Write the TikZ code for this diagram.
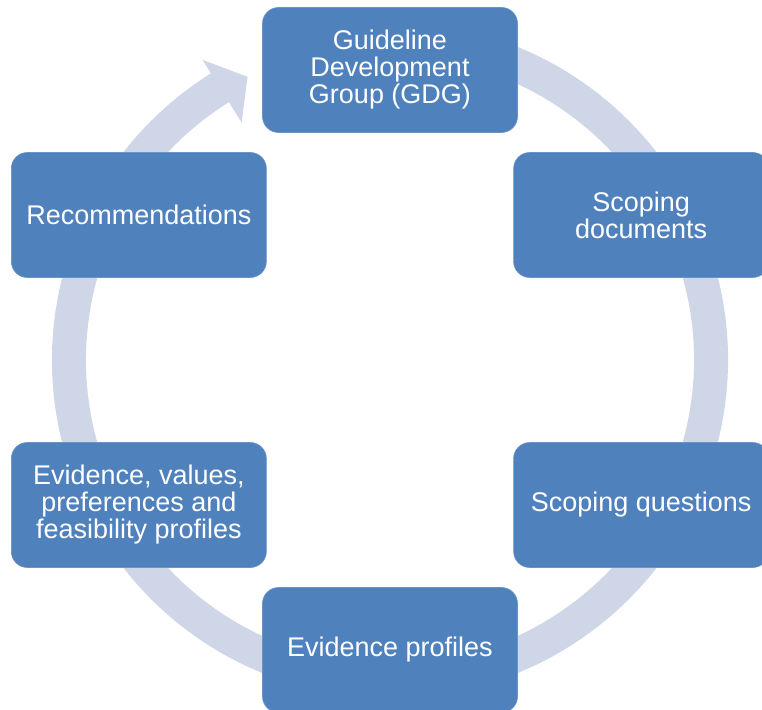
\documentclass[tikz,border=0pt]{standalone}
\usepackage{fontspec}
\setmainfont{Liberation Sans}
\usepackage{xcolor}
\usepackage{tikz}
\usetikzlibrary{positioning}
\definecolor{cycleblue}{HTML}{4F81BD}
\definecolor{ringgray}{HTML}{CFD6E7}
\tikzset{
  cycleblock/.style={draw=cycleblue!85!white,line width=0.6pt,rounded corners=16pt,
    fill=cycleblue,text=white,minimum width=255pt,minimum height=125pt,
    align=center,font=\fontsize{27}{27}\selectfont},
  ringarrow/.style={fill=ringgray,draw=none}
}

\begin{document}
\begin{tikzpicture}[x=1pt,y=1pt]
\useasboundingbox (-390,-349) rectangle (372,360);
\clip (-390,-349) rectangle (372,360);
% circular arrow behind the blocks
\path[ringarrow] (80:338) arc[start angle=80,end angle=-238,radius=338]
  -- (122:354) -- (116.7:317) -- (122:280) -- (122:304)
  arc[start angle=-238,end angle=80,radius=304] -- cycle;
% the six stages
\node[cycleblock] (gdg) at (90:290) {Guideline\\Development\\Group (GDG)};
\node[cycleblock] (scopedoc) at (30:290) {Scoping\\documents};
\node[cycleblock] (scopeq) at (-30:290) {Scoping questions};
\node[cycleblock] (evprof) at (-90:290) {Evidence profiles};
\node[cycleblock] (evvalues) at (210:290) {Evidence, values,\\preferences and\\feasibility profiles};
\node[cycleblock] (recs) at (150:290) {Recommendations};
\end{tikzpicture}
\end{document}
